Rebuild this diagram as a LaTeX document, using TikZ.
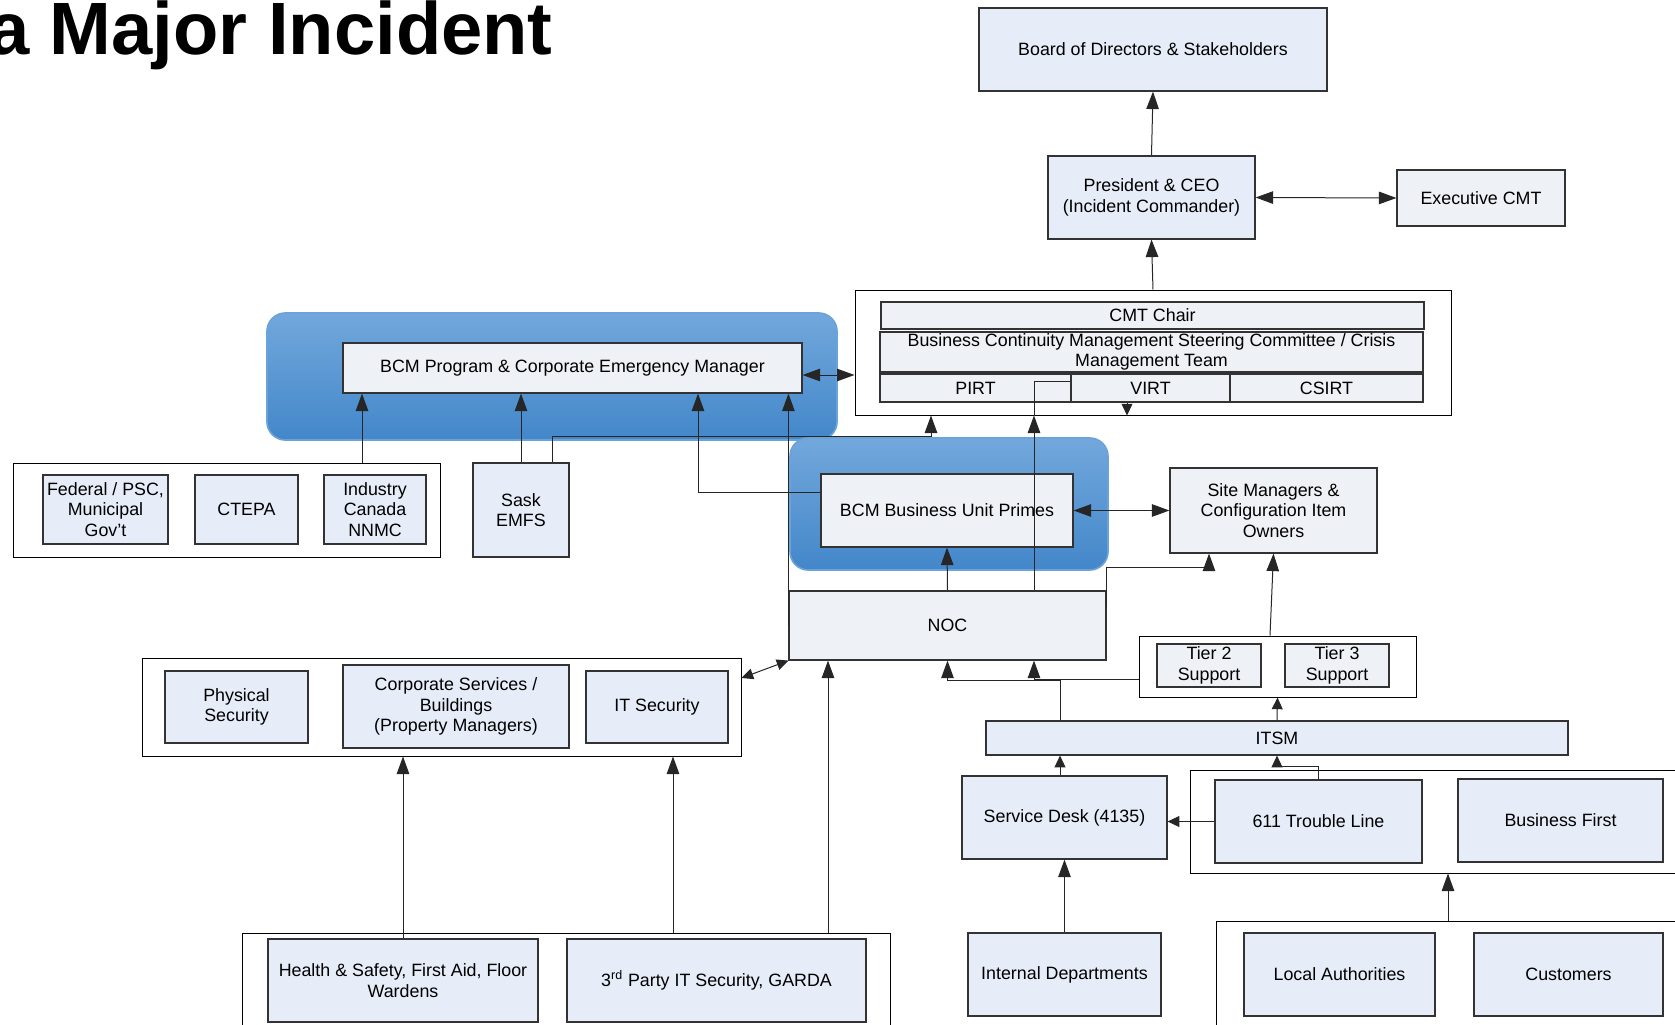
\documentclass[tikz,border=0pt]{standalone}
\usepackage{fontspec}
\setmainfont{Liberation Sans}
\usetikzlibrary{arrows.meta}
\definecolor{boxblue}{HTML}{E6EDF8}
\definecolor{boxgray}{HTML}{EEF1F6}
\definecolor{teamtop}{HTML}{72A8DC}
\definecolor{teambot}{HTML}{4387CA}
\definecolor{teamedge}{HTML}{6AA2DA}
\tikzset{
  wh/.style 2 args={minimum width=#1*0.6pt, minimum height=#2*0.6pt},
  box/.style={draw=black!80, line width=0.7pt, fill=boxblue, inner sep=0pt,
    align=center, font=\fontsize{10.7}{12.4}\selectfont},
  graybox/.style={box, fill=boxgray},
  group/.style={draw=black, line width=0.6pt, fill=white, inner sep=0pt},
  team/.style={draw=teamedge, line width=1pt, rounded corners=11pt,
    top color=teamtop, bottom color=teambot, inner sep=0pt},
  arr/.style={-{Triangle[length=10.5pt,width=7.5pt]}, line width=0.6pt, draw=black!85},
  sarr/.style={-{Triangle[length=7pt,width=6.5pt]}, line width=0.6pt, draw=black!85},
  darr/.style={{Triangle[length=10.5pt,width=7.5pt]}-{Triangle[length=10.5pt,width=7.5pt]}, line width=0.6pt, draw=black!85},
  sdarr/.style={{Triangle[length=7pt,width=6.5pt]}-{Triangle[length=7pt,width=6.5pt]}, line width=0.6pt, draw=black!85},
  wire/.style={line width=0.6pt, draw=black!85},
}

\begin{document}
\begin{tikzpicture}[x=0.6pt, y=-0.6pt]
        \useasboundingbox (0,0) rectangle (1675,1025);
        \clip (0,0) rectangle (1675,1025);
        %Title
        \node[anchor=base east, inner sep=0pt, font=\fontsize{44.5}{50}\bfseries\selectfont] (title) at (553,54) {a Major Incident};
        %Blue teams
        \node[team, wh={570}{127}] (progteam) at (552,376.5) {};
        \node[team, wh={318}{132}] (unitteam) at (949,504) {};
        %Groups
        \node[group, wh={596}{125}] (cmt) at (1153,352.5) {};
        \node[group, wh={427}{94}] (fedgrp) at (226.5,510) {};
        \node[group, wh={277}{61}] (tiergrp) at (1277.5,666.5) {};
        \node[group, wh={599}{98}] (secgrp) at (441.5,707) {};
        \node[group, wh={510}{103}] (tlgrp) at (1445,821.5) {};
        \node[group, wh={484}{129}] (locgrp) at (1458,985.5) {};
        \node[group, wh={648}{117}] (hsgrp) at (566,991.5) {};
        %Boxes top
        \node[box, wh={348}{83}] (board) at (1153,49.5) {Board of Directors \& Stakeholders};
        \node[box, wh={207}{83}] (pres) at (1151.5,197.5) {President \& CEO\\(Incident Commander)};
        \node[graybox, wh={168}{56}] (exec) at (1481,198) {Executive CMT};
        \node[graybox, wh={543}{27}] (chair) at (1152.5,315.5) {CMT Chair};
        \node[graybox, wh={543}{40}] (steer) at (1151.5,352) {Business Continuity Management Steering Committee / Crisis\\Management Team};
        \node[graybox, wh={191}{28}] (pirt) at (975.5,388) {PIRT};
        \node[graybox, wh={159}{28}] (virt) at (1150.5,388) {VIRT};
        \node[graybox, wh={193}{28}] (csirt) at (1326.5,388) {CSIRT};
        %Boxes middle
        \node[graybox, wh={459}{50}] (bcmprog) at (572.5,368) {BCM Program \& Corporate Emergency Manager};
        \node[box, wh={125}{69}] (federal) at (105.5,509.5) {Federal / PSC,\\Municipal\\Gov’t};
        \node[box, wh={103}{69}] (ctepa) at (246.5,509.5) {CTEPA};
        \node[box, wh={102}{69}] (industry) at (375,509.5) {Industry\\Canada\\NNMC};
        \node[box, wh={96}{94}] (sask) at (521,510) {Sask\\EMFS};
        \node[graybox, wh={252}{73}] (unit) at (947,510.5) {BCM Business Unit Primes};
        \node[graybox, wh={207}{85}] (site) at (1273.5,510.5) {Site Managers \&\\Configuration Item\\Owners};
        \node[graybox, wh={317}{69}] (noc) at (947.5,625.5) {NOC};
        \node[graybox, wh={104}{43}] (tier2) at (1209,665.5) {Tier 2\\Support};
        \node[graybox, wh={104}{43}] (tier3) at (1337,665.5) {Tier 3\\Support};
        \node[box, wh={582}{34}] (itsm) at (1277,738) {ITSM};
        \node[box, wh={143}{72}] (physical) at (236.5,707) {Physical\\Security};
        \node[box, wh={226}{83}] (corp) at (456,706.5) {Corporate Services /\\Buildings\\(Property Managers)};
        \node[box, wh={142}{72}] (itsec) at (657,707) {IT Security};
        %Boxes bottom
        \node[box, wh={205}{83}] (sd) at (1064.5,817.5) {Service Desk (4135)};
        \node[box, wh={207}{83}] (tl611) at (1318.5,821.5) {611 Trouble Line};
        \node[box, wh={205}{83}] (bfirst) at (1560.5,820.5) {Business First};
        \node[box, wh={193}{83}] (internal) at (1064.5,974.5) {Internal Departments};
        \node[box, wh={191}{83}] (local) at (1339.5,974.5) {Local Authorities};
        \node[box, wh={189}{83}] (customers) at (1568.5,974.5) {Customers};
        \node[box, wh={270}{83}] (health) at (403,980.5) {Health \& Safety, First Aid, Floor\\Wardens};
        \node[box, wh={299}{83}] (third) at (716.5,980.5) {3\textsuperscript{rd} Party IT Security, GARDA};
        %Arrows top
        \draw[arr] (pres.north) -- (board.south);
        \draw[arr] (cmt.north) -- (pres.south);
        \draw[darr] (pres.east) -- (exec.west);
        \draw[darr] ([yshift=-4.2pt]bcmprog.east) -- ([yshift=-4.2pt]bcmprog.east -| cmt.west);
        \draw[sarr] (1127,0 |- virt.south) -- (1127,0 |- cmt.south);
        %Arrows into BCM program
        \draw[arr] (362,0 |- fedgrp.north) -- (362,0 |- bcmprog.south);
        \draw[arr] (sask.north) -- (sask.north |- bcmprog.south);
        \draw[arr] (unit.west |- 0,492) -| (698,0 |- bcmprog.south);
        \draw[arr] (noc.west) -- (noc.west |- bcmprog.south);
        \draw[arr] (552,0 |- sask.north) -- ++(0,-26) -| (931,0 |- cmt.south);
        %NOC
        \draw[arr] (noc.north) -- (unit.south);
        \draw[arr] (1034,0 |- noc.north) -- (1034,0 |- cmt.south);
        \draw[wire] (1034,0 |- cmt.south) |- (virt.west |- 0,381);
        \draw[darr] (unit.east) -- (site.west);
        \draw[arr] (noc.east |- 0,607) -- ++(0,-40) -| (1209,0 |- site.south);
        \draw[arr] (1270,0 |- tiergrp.north) -- (site.south);
        \draw[sarr] (itsm.north) -- (tiergrp.south);
        \draw[arr] (1060,0 |- itsm.north) -- ++(0,-40) -| (noc.south);
        \draw[arr] (tiergrp.west |- 0,679) -| (1034,0 |- noc.south);
        \draw[sdarr] (secgrp.east |- 0,678) -- (noc.south west);
        \draw[arr] (828,0 |- hsgrp.north) -- (828,0 |- noc.south);
        \draw[arr] (health.north) -- (health.north |- secgrp.south);
        \draw[arr] (673,0 |- hsgrp.north) -- (673,0 |- secgrp.south);
        %ITSM side
        \draw[sarr] (1060,0 |- sd.north) -- (1060,0 |- itsm.south);
        \draw[sarr] (tl611.north) -- ++(0,-13) -| (1277,0 |- itsm.south);
        \draw[sarr] (tl611.west) -- (tl611.west -| sd.east);
        \draw[arr] (internal.north) -- (internal.north |- sd.south);
        \draw[arr] (1448,0 |- locgrp.north) -- (1448,0 |- tlgrp.south);
\end{tikzpicture}
\end{document}
